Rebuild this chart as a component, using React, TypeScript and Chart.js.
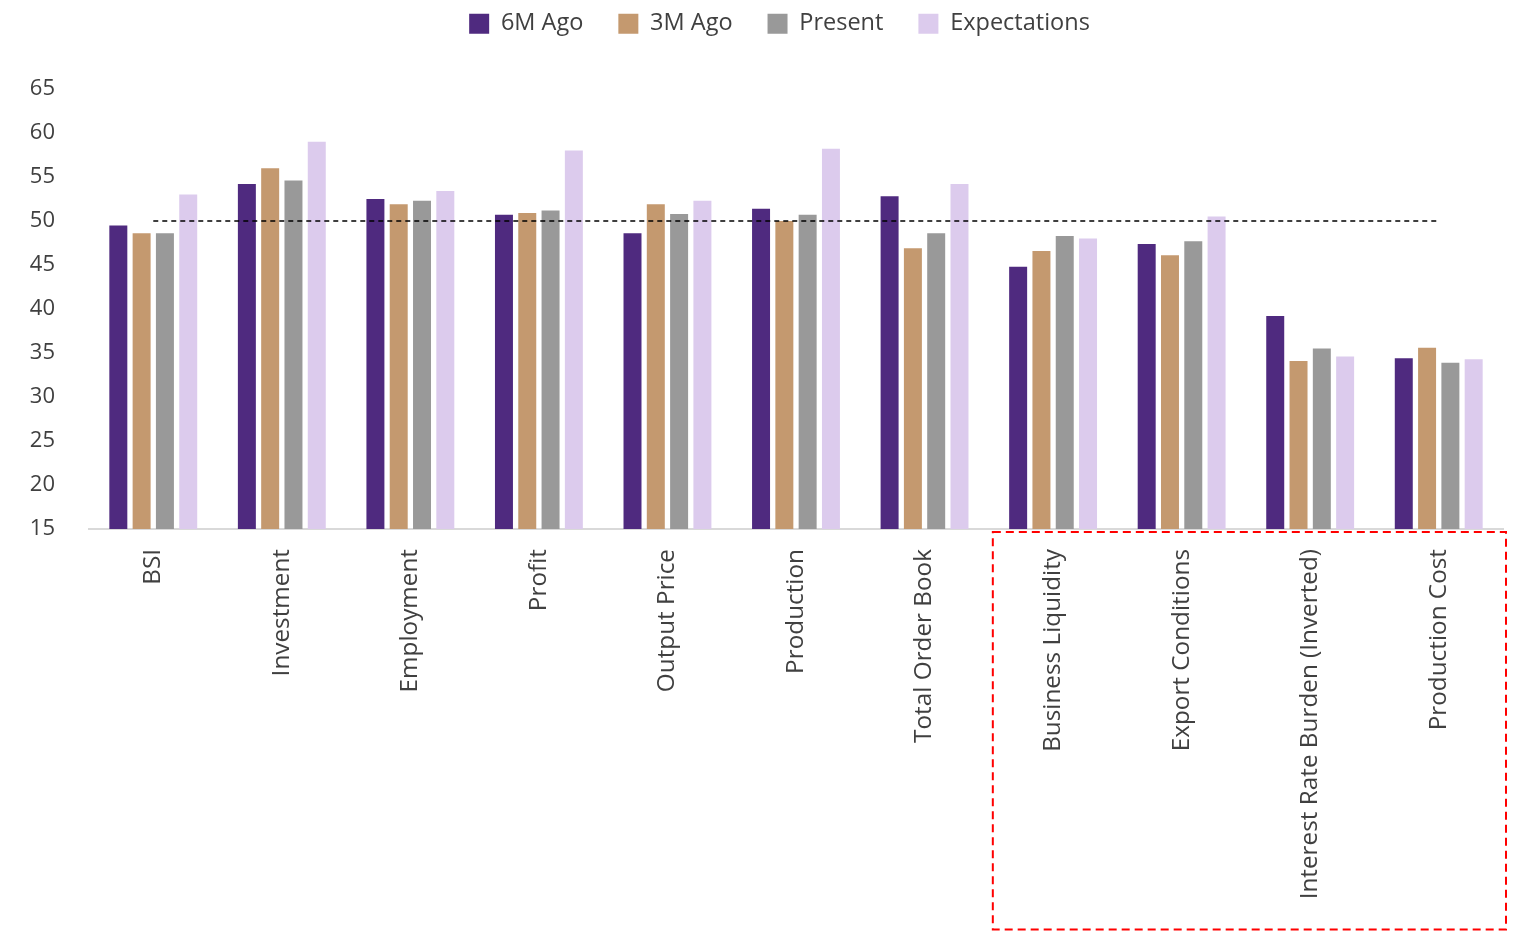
import React, { useEffect, useRef } from 'react';
import { Chart, registerables } from 'chart.js';

Chart.register(...registerables);

// Survey components shown along the category axis
const categories = [
  'BSI',
  'Investment',
  'Employment',
  'Profit',
  'Output Price',
  'Production',
  'Total Order Book',
  'Business Liquidity',
  'Export Conditions',
  'Interest Rate Burden (Inverted)',
  'Production Cost',
];

const seriesNames = ['6M Ago', '3M Ago', 'Present', 'Expectations'];
const seriesColors = ['#4f2a7f', '#c4996f', '#999999', '#dccbed'];

const sixMonthsAgo = [49.5, 54.2, 52.5, 50.7, 48.6, 51.4, 52.8, 44.8, 47.4, 39.2, 34.4];
const threeMonthsAgo = [48.6, 56.0, 51.9, 50.9, 51.9, 50.0, 46.9, 46.6, 46.1, 34.1, 35.6];
const present = [48.6, 54.6, 52.3, 51.2, 50.8, 50.7, 48.6, 48.3, 47.7, 35.5, 33.9];
const expectations = [53.0, 59.0, 53.4, 58.0, 52.3, 58.2, 54.2, 48.0, 50.5, 34.6, 34.3];

// Neutral reading (expansion / contraction threshold)
const neutralLevel = 50;

const yMin = 15;
const yMax = 65;
const yStep = 5;

// First category of the group framed by the red dashed box
const highlightFrom = 'Business Liquidity';

const textColor = '#404040';
const fontFamily = '"Open Sans", "Noto Sans", sans-serif';

// Keeps a fixed band at the top for the legend and lifts/shifts the legend row
const legendPlacement = {
  id: 'legendPlacement',
  beforeLayout(chart: any) {
    const lg = chart.legend;
    if (lg && !lg._fixedFit) {
      const orig = lg.fit.bind(lg);
      lg.fit = function () {
        orig();
        this.height = 89;
      };
      lg._fixedFit = true;
    }
  },
  afterLayout(chart: any) {
    const lg = chart.legend;
    if (!lg) return;
    lg.top -= 23;
    lg.bottom -= 23;
    lg.left += 28;
    lg.right += 28;
  },
};

// Red dashed frame around the labels of the highlighted categories
const highlightFrame = {
  id: 'highlightFrame',
  afterDraw(chart: any) {
    const x = chart.scales.x;
    const area = chart.chartArea;
    const idx = categories.indexOf(highlightFrom);
    const half = (x.getPixelForValue(1) - x.getPixelForValue(0)) / 2;
    const left = x.getPixelForValue(idx) - half + 4;
    const right = area.right + 3;
    const top = area.bottom + 3;
    const bottom = chart.height - 1.5;
    const ctx = chart.ctx;
    ctx.save();
    ctx.strokeStyle = '#ff0000';
    ctx.lineWidth = 2;
    ctx.setLineDash([8, 5]);
    ctx.strokeRect(left, top, right - left, bottom - top);
    ctx.restore();
  },
};

export default function App() {
  const canvasRef = useRef<HTMLCanvasElement | null>(null);

  useEffect(() => {
    if (!canvasRef.current) return;
    const values = [sixMonthsAgo, threeMonthsAgo, present, expectations];

    const barSets = seriesNames.map((name, i) => ({
      type: 'bar' as const,
      label: name,
      data: values[i],
      backgroundColor: seriesColors[i],
      borderWidth: 0,
      categoryPercentage: 0.725,
      barPercentage: 0.772,
      order: 1,
    }));

    const chart = new Chart(canvasRef.current, {
      type: 'bar',
      data: {
        labels: categories,
        datasets: [
          ...barSets,
          {
            type: 'line' as const,
            label: 'Neutral',
            data: categories.map(() => neutralLevel),
            borderColor: '#000000',
            borderWidth: 1.5,
            borderDash: [5, 4],
            pointRadius: 0,
            fill: false,
            order: 0,
          } as any,
        ],
      },
      options: {
        animation: false,
        responsive: true,
        maintainAspectRatio: false,
        layout: { padding: { left: 0, right: 16, top: 0, bottom: 0 } },
        plugins: {
          tooltip: { enabled: false },
          legend: {
            position: 'top',
            align: 'center',
            labels: {
              filter: (item: any) => seriesNames.includes(item.text),
              boxWidth: 20,
              boxHeight: 20,
              padding: 35,
              color: textColor,
              font: { family: fontFamily, size: 23.5 },
            },
          },
        },
        scales: {
          x: {
            grid: { display: false, drawTicks: false },
            border: { display: true, color: '#d9d9d9', width: 2 },
            ticks: {
              minRotation: 90,
              maxRotation: 90,
              autoSkip: false,
              padding: 20,
              color: textColor,
              font: { family: fontFamily, size: 24.3 },
            },
            afterFit(scale: any) {
              scale.height = 402;
            },
          },
          y: {
            min: yMin,
            max: yMax,
            grid: { display: false, drawTicks: false },
            border: { display: false },
            ticks: {
              stepSize: yStep,
              padding: 34,
              color: textColor,
              font: { family: fontFamily, size: 22 },
            },
            afterFit(scale: any) {
              scale.width = 89;
            },
          },
        },
      },
      plugins: [legendPlacement, highlightFrame],
    });

    return () => chart.destroy();
  }, []);

  return (
    <div style={{ position: 'fixed', left: 0, top: 0, width: 1519, height: 931, background: '#ffffff' }}>
      <canvas ref={canvasRef} />
    </div>
  );
}
